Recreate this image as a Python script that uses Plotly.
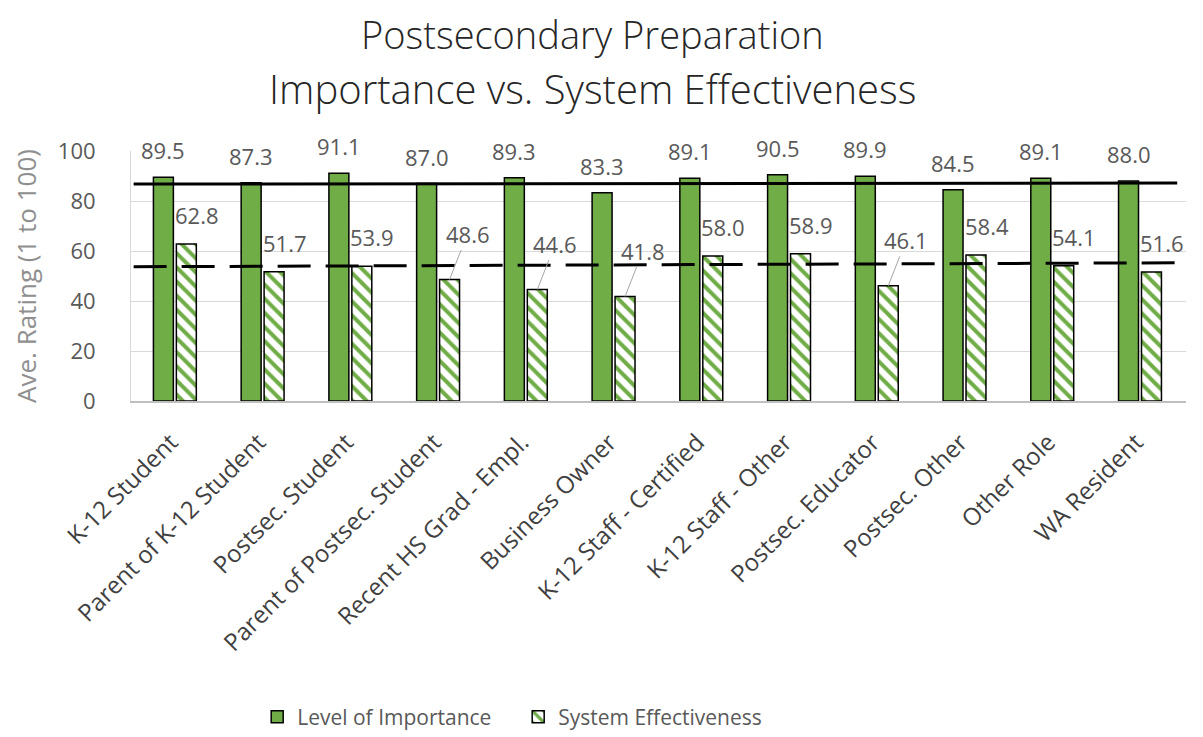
import plotly.graph_objects as go

# survey roles (x axis)
categories = [
    "K-12 Student", "Parent of K-12 Student", "Postsec. Student",
    "Parent of Postsec. Student", "Recent HS Grad - Empl.", "Business Owner",
    "K-12 Staff - Certified", "K-12 Staff - Other", "Postsec. Educator",
    "Postsec. Other", "Other Role", "WA Resident",
]
importance = [89.5, 87.3, 91.1, 87.0, 89.3, 83.3, 89.1, 90.5, 89.9, 84.5, 89.1, 88.0]
effectiveness = [62.8, 51.7, 53.9, 48.6, 44.6, 41.8, 58.0, 58.9, 46.1, 58.4, 54.1, 51.6]

# overall average lines (value at left end, value at right end)
overall_importance = [86.8, 87.2]
overall_effectiveness = [53.7, 55.3]

y_ticks = [0, 20, 40, 60, 80, 100]

GREEN = "#70AD47"
FONT = "Open Sans"
LABEL_GRAY = "#595959"

fig = go.Figure()

fig.add_trace(go.Bar(
    name="Level of Importance", x=categories, y=importance,
    marker=dict(color=GREEN, line=dict(color="black", width=1.5)),
))
fig.add_trace(go.Bar(
    name="System Effectiveness", x=categories, y=effectiveness,
    marker=dict(color="white", line=dict(color="black", width=1.5),
                pattern=dict(shape="\\", fgcolor=GREEN, bgcolor="white",
                             size=10, solidity=0.4, fillmode="replace")),
))

# average lines, on a hidden numeric axis laid over the category axis
span_solid = [-0.47, 11.40]
span_dash = [-0.47, 11.46]
fig.add_trace(go.Scatter(
    x=span_solid, y=overall_importance, xaxis="x2", yaxis="y", mode="lines",
    line=dict(color="black", width=3), showlegend=False, hoverinfo="skip",
))
fig.add_trace(go.Scatter(
    x=span_dash, y=overall_effectiveness, xaxis="x2", yaxis="y", mode="lines",
    line=dict(color="black", width=3, dash="33px,15px"), showlegend=False,
    hoverinfo="skip",
))

# data labels
label_font = dict(family=FONT, size=22, color=LABEL_GRAY)
annotations = []
for cat, val in zip(categories, importance):
    annotations.append(dict(
        x=cat, y=val, xref="x", yref="y", text=f"{val:.1f}", showarrow=False,
        xshift=-11.5, yshift=27, font=label_font,
    ))
leader = {3, 4, 5, 8}  # labels pulled up with a leader line
for i, (cat, val) in enumerate(zip(categories, effectiveness)):
    if i in leader:
        annotations.append(dict(
            x=cat, y=val, xref="x", yref="y", text=f"{val:.1f}", showarrow=True,
            arrowhead=0, arrowwidth=1, arrowcolor="#a6a6a6", ax=18, ay=-46,
            xshift=11.5, font=label_font,
        ))
    else:
        annotations.append(dict(
            x=cat, y=val, xref="x", yref="y", text=f"{val:.1f}", showarrow=False,
            xshift=22, yshift=29, font=label_font,
        ))

# two-line title
annotations.append(dict(
    text="Postsecondary Preparation", x=0.437, y=1.47, xref="paper", yref="paper",
    xanchor="center", yanchor="middle", showarrow=False,
    font=dict(family=FONT, size=38, color="#262626", weight=300),
))
annotations.append(dict(
    text="Importance vs. System Effectiveness", x=0.437, y=1.252, xref="paper",
    yref="paper", xanchor="center", yanchor="middle", showarrow=False,
    font=dict(family=FONT, size=40, color="#262626", weight=300),
))

# the page body has an 8px margin, so the figure is 8px smaller and shifted
fig.update_layout(
    width=1195, height=729,
    margin=dict(l=123, r=17, t=143, b=336, autoexpand=False),
    paper_bgcolor="white", plot_bgcolor="white",
    barmode="group", bargap=0.477, bargroupgap=0.13,
    font=dict(family=FONT, color=LABEL_GRAY),
    showlegend=True,
    legend=dict(orientation="h", x=0.367, xanchor="center", y=-1.264,
                yanchor="middle", font=dict(family=FONT, size=21, color=LABEL_GRAY),
                itemwidth=30, entrywidth=216, traceorder="normal"),
    xaxis=dict(
        tickangle=-45, tickfont=dict(family=FONT, size=24, color="#404040"),
        showline=True, linecolor="#bfbfbf", linewidth=1.5, showgrid=False,
        ticks="", automargin=False, ticklabelstandoff=16, ticklabelshift=-4,
    ),
    xaxis2=dict(overlaying="x", range=[-0.5, 11.5], visible=False),
    yaxis=dict(
        range=[0, 100], tickvals=y_ticks, ticks="", showline=True,
        linecolor="#d9d9d9", linewidth=1, gridcolor="#d9d9d9", gridwidth=1,
        zeroline=False, tickfont=dict(family=FONT, size=22, color=LABEL_GRAY),
        ticklabelstandoff=30, automargin=False,
        title=dict(text="Ave. Rating (1 to 100)", standoff=24,
                   font=dict(family=FONT, size=26, color="#8f8f8f")),
    ),
    annotations=annotations,
)

fig.write_html("out.html")
